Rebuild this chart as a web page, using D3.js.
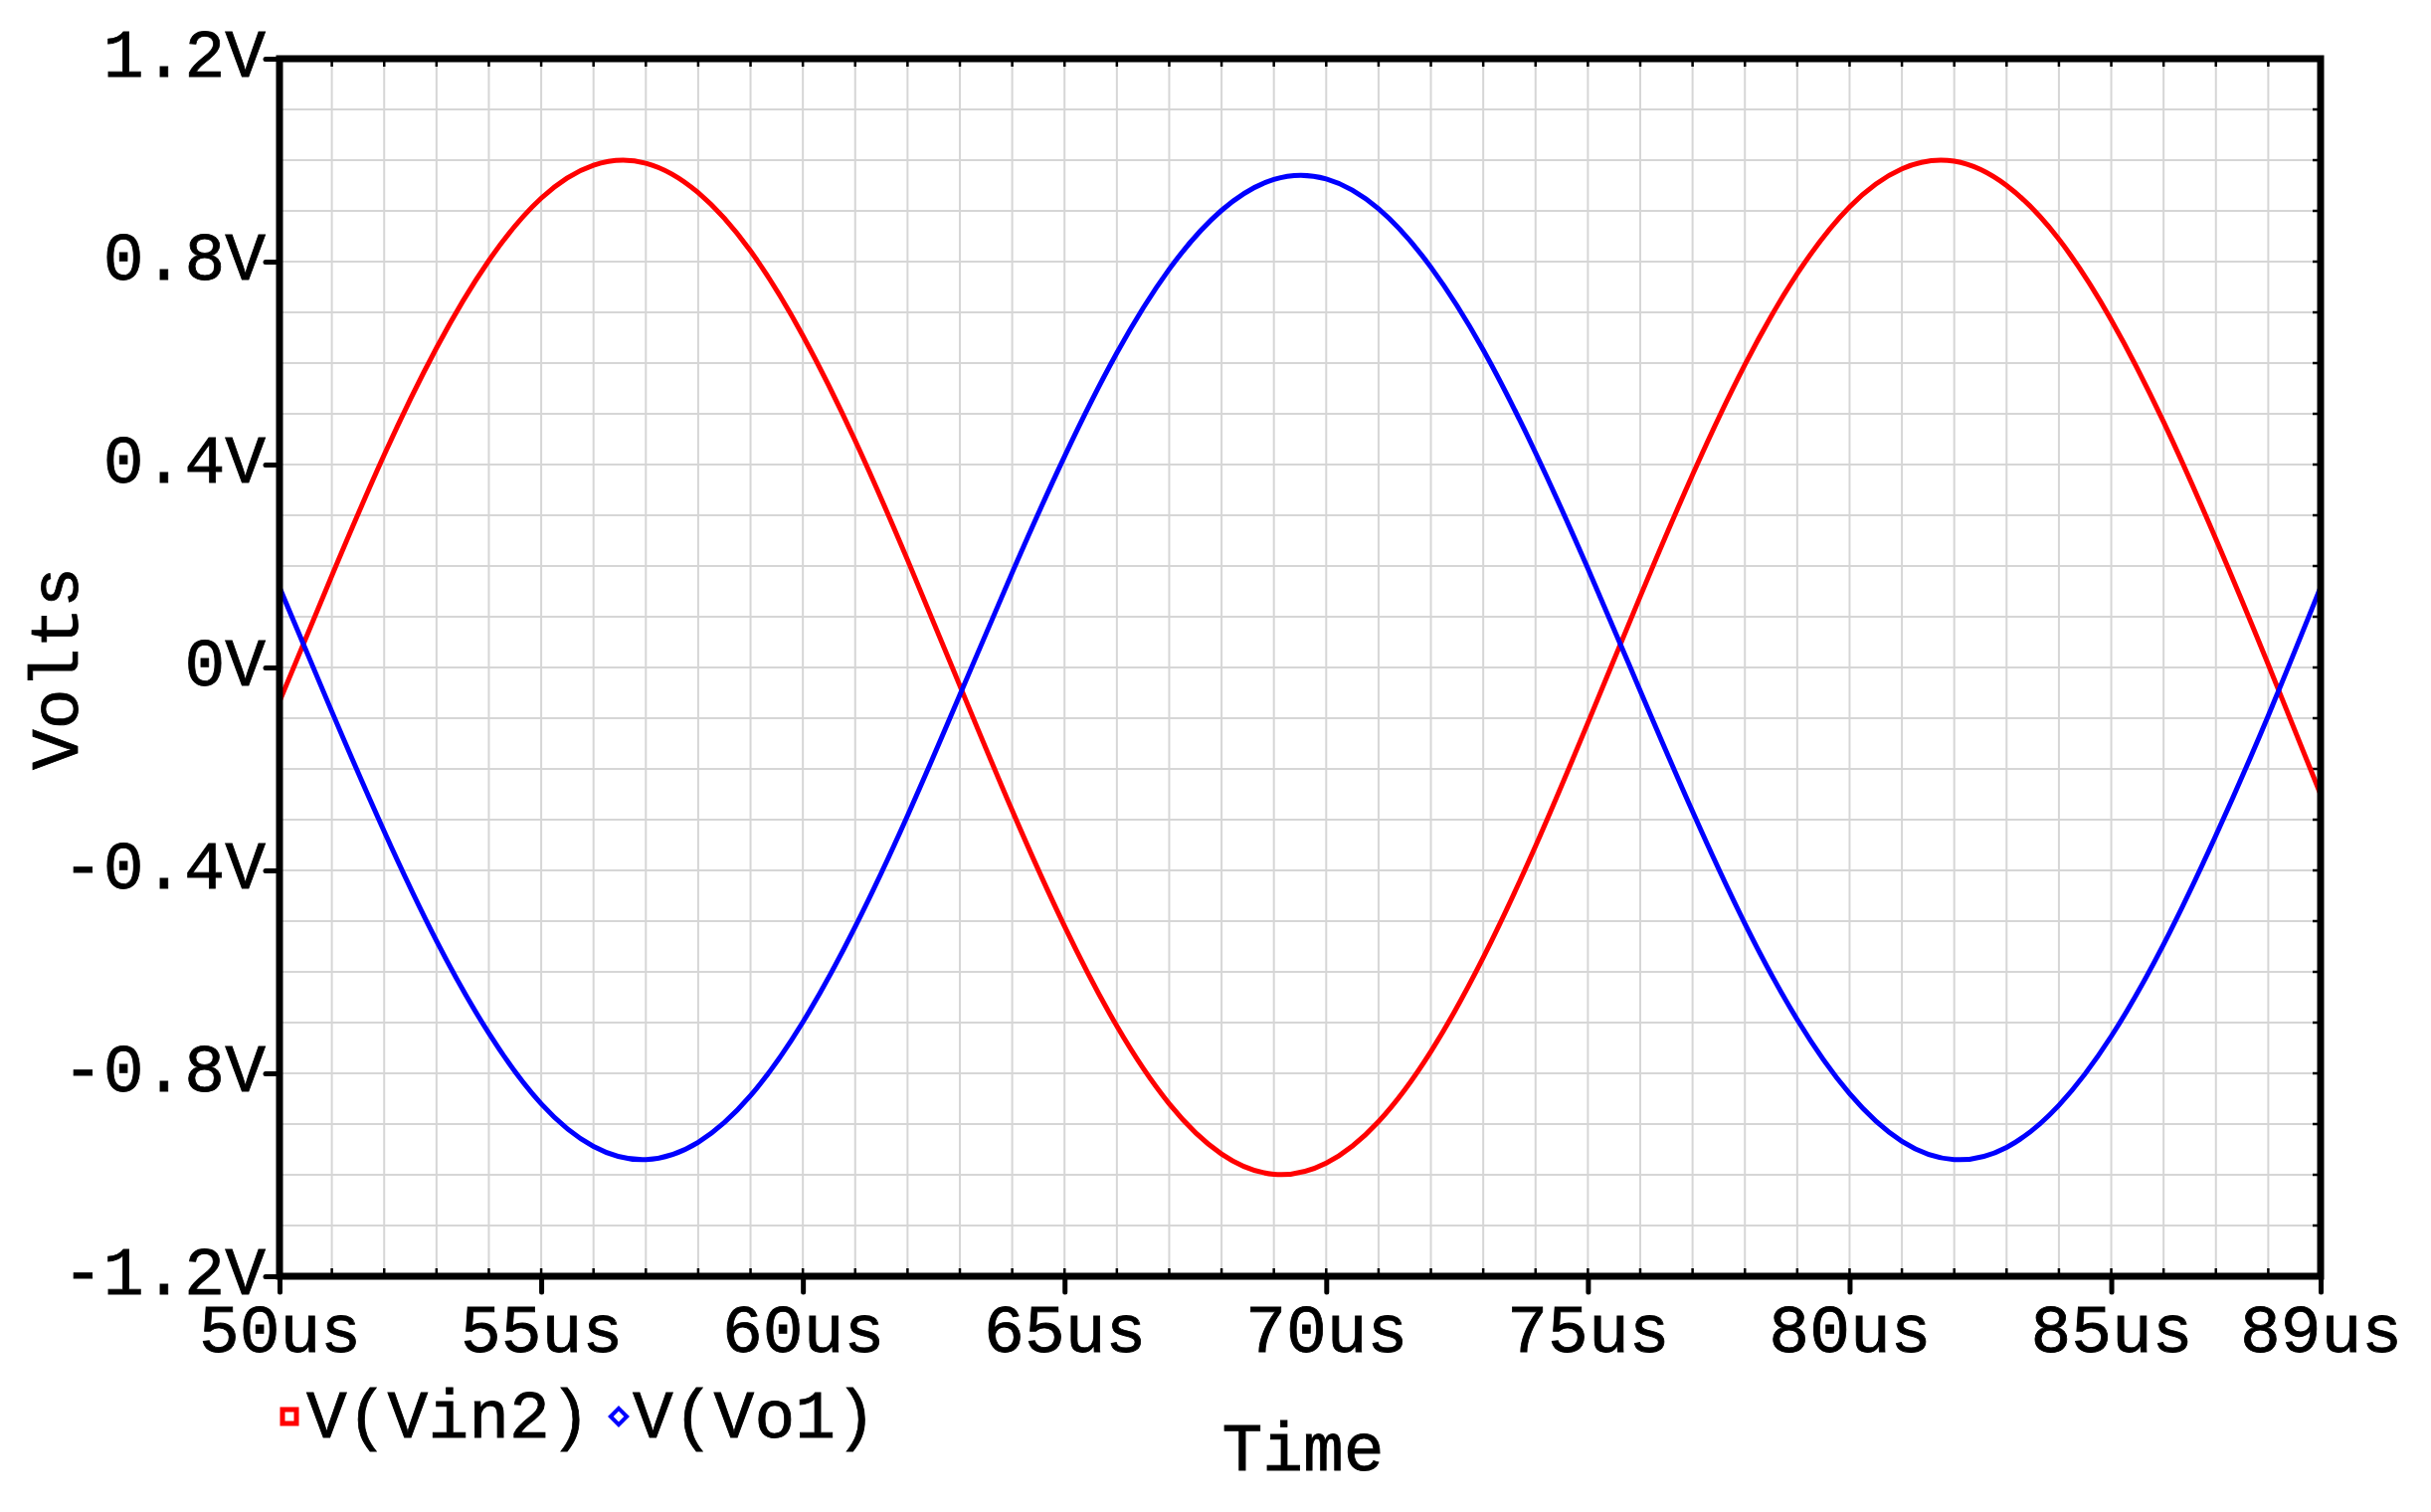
<!DOCTYPE html>
<html>
<head>
<meta charset="utf-8">
<script src="https://cdn.jsdelivr.net/npm/d3@7"></script>
<style>
  html, body { margin: 0; padding: 0; background: #fff; }
  svg { display: block; }
  text { font-family: "Liberation Mono", "DejaVu Sans Mono", monospace; fill: #000; }
</style>
</head>
<body>
<svg id="chart" width="2444" height="1520"></svg>
<script>
// time axis in microseconds
const time_us = [50, 51, 52, 53, 54, 55, 56, 57, 58, 59,
                 60, 61, 62, 63, 64, 65, 66, 67, 68, 69,
                 70, 71, 72, 73, 74, 75, 76, 77, 78, 79,
                 80, 81, 82, 83, 84, 85, 86, 87, 88, 89];

// V(Vin2), volts
const vin2 = [-0.067, 0.181, 0.419, 0.630, 0.802, 0.925, 0.990, 0.994, 0.936, 0.821,
              0.654, 0.447, 0.212, -0.036, -0.282, -0.510, -0.707, -0.860, -0.959, -0.999,
              -0.977, -0.895, -0.757, -0.572, -0.352, -0.109, 0.140, 0.380, 0.597, 0.776,
              0.908, 0.983, 0.998, 0.950, 0.844, 0.685, 0.484, 0.253, 0.006, -0.250];

// V(Vo1), volts
const vo1 = [0.158, -0.087, -0.323, -0.539, -0.721, -0.860, -0.944, -0.970, -0.936, -0.844,
             -0.699, -0.511, -0.292, -0.054, 0.187, 0.416, 0.620, 0.785, 0.901, 0.962,
             0.963, 0.904, 0.789, 0.626, 0.423, 0.195, -0.046, -0.284, -0.505, -0.694,
             -0.840, -0.934, -0.970, -0.946, -0.863, -0.727, -0.546, -0.331, -0.095, 0.158];

const xTicks = [50, 55, 60, 65, 70, 75, 80, 85, 89];
const xTickLabels = ["50us", "55us", "60us", "65us", "70us", "75us", "80us", "85us", "89us"];
const yTicks = [1.2, 0.8, 0.4, 0, -0.4, -0.8, -1.2];
const yTickLabels = ["1.2V", "0.8V", "0.4V", "0V", "-0.4V", "-0.8V", "-1.2V"];

const seriesNames = ["V(Vin2)", "V(Vo1)"];
const seriesColors = ["#ff0000", "#0000ff"];

let svg = d3.select("#chart");

let plotLeft = 281, plotRight = 2333, plotTop = 59, plotBottom = 1283;

let x = d3.scaleLinear().domain([50, 89]).range([plotLeft, plotRight]);
let y = d3.scaleLinear().domain([-1.2, 1.2]).range([plotBottom, plotTop]);

let fontSize = 68;

// grid
let grid = svg.append("g").attr("stroke", "#d6d6d6").attr("stroke-width", 2);

grid.selectAll(".vgrid")
    .data(d3.range(51, 89, 1))
    .enter().append("line")
    .attr("x1", d => x(d)).attr("x2", d => x(d))
    .attr("y1", plotTop).attr("y2", plotBottom);

grid.selectAll(".hgrid")
    .data(d3.range(-11, 12, 1).map(d => d / 10))
    .enter().append("line")
    .attr("x1", plotLeft).attr("x2", plotRight)
    .attr("y1", d => y(d)).attr("y2", d => y(d));

// minor ticks on top / bottom / right edges
let minor = svg.append("g").attr("stroke", "#000").attr("stroke-width", 2.5);

minor.selectAll(".tmin")
    .data(d3.range(51, 89, 1))
    .enter().append("line")
    .attr("x1", d => x(d)).attr("x2", d => x(d))
    .attr("y1", plotTop).attr("y2", plotTop + 8);

minor.selectAll(".bmin")
    .data(d3.range(51, 89, 1))
    .enter().append("line")
    .attr("x1", d => x(d)).attr("x2", d => x(d))
    .attr("y1", plotBottom).attr("y2", plotBottom - 8);

minor.selectAll(".rmin")
    .data(d3.range(-11, 12, 1).map(d => d / 10))
    .enter().append("line")
    .attr("x1", plotRight).attr("x2", plotRight - 8)
    .attr("y1", d => y(d)).attr("y2", d => y(d));

// curves
let line = d3.line()
    .curve(d3.curveNatural)
    .x(d => x(d[0]))
    .y(d => y(d[1]));

[vin2, vo1].forEach(function (vals, i) {
    svg.append("path")
        .datum(time_us.map((t, j) => [t, vals[j]]))
        .attr("fill", "none")
        .attr("stroke", seriesColors[i])
        .attr("stroke-width", 5)
        .attr("d", line);
});

// frame
svg.append("rect")
    .attr("x", plotLeft).attr("y", plotTop)
    .attr("width", plotRight - plotLeft).attr("height", plotBottom - plotTop)
    .attr("fill", "none")
    .attr("stroke", "#000")
    .attr("stroke-width", 7);

// y axis
let yAxis = d3.axisLeft(y)
    .tickValues(yTicks)
    .tickFormat((d, i) => yTickLabels[i])
    .tickSize(14)
    .tickPadding(2);

let gy = svg.append("g")
    .attr("transform", "translate(" + plotLeft + ",0)")
    .call(yAxis);
gy.select(".domain").remove();
gy.selectAll(".tick line").attr("stroke", "#000").attr("stroke-width", 5).attr("stroke-linecap", "round");
gy.selectAll(".tick text")
    .attr("font-family", "Liberation Mono")
    .attr("font-size", fontSize)
    .attr("stroke", "#000")
    .attr("stroke-width", 0.8)
    .attr("x", -14)
    .attr("dy", "0.26em");

// x axis
let xAxis = d3.axisBottom(x)
    .tickValues(xTicks)
    .tickFormat((d, i) => xTickLabels[i])
    .tickSize(16)
    .tickPadding(10);

let gx = svg.append("g")
    .attr("transform", "translate(0," + plotBottom + ")")
    .call(xAxis);
gx.select(".domain").remove();
gx.selectAll(".tick line").attr("stroke", "#000").attr("stroke-width", 5).attr("stroke-linecap", "round");
gx.selectAll(".tick text")
    .attr("font-family", "Liberation Mono")
    .attr("font-size", fontSize)
    .attr("stroke", "#000")
    .attr("stroke-width", 0.8)
    .attr("y", 28)
    .attr("dy", "0.71em");

// axis titles
svg.append("text")
    .attr("transform", "translate(78,672) rotate(-90)")
    .attr("text-anchor", "middle")
    .attr("font-size", fontSize)
    .attr("stroke", "#000")
    .attr("stroke-width", 0.8)
    .text("Volts");

svg.append("text")
    .attr("x", 1310).attr("y", 1478)
    .attr("text-anchor", "middle")
    .attr("font-size", fontSize)
    .attr("stroke", "#000")
    .attr("stroke-width", 0.8)
    .text("Time");

// legend
let legend = svg.append("g");
let legendX = [291, 622];
let legendY = 1424;

legend.append("rect")
    .attr("x", legendX[0] - 7).attr("y", legendY - 7)
    .attr("width", 14).attr("height", 14)
    .attr("fill", "#fff")
    .attr("stroke", seriesColors[0])
    .attr("stroke-width", 5);

legend.append("path")
    .attr("d", d3.symbol().type(d3.symbolDiamond2).size(170)())
    .attr("transform", "translate(" + legendX[1] + "," + legendY + ")")
    .attr("fill", "#fff")
    .attr("stroke", seriesColors[1])
    .attr("stroke-width", 4);

seriesNames.forEach(function (name, i) {
    legend.append("text")
        .attr("x", legendX[i] + (i === 0 ? 17 : 14))
        .attr("y", 1445)
        .attr("font-size", fontSize)
        .attr("stroke", "#000")
        .attr("stroke-width", 0.8)
        .text(name);
});
</script>
</body>
</html>
